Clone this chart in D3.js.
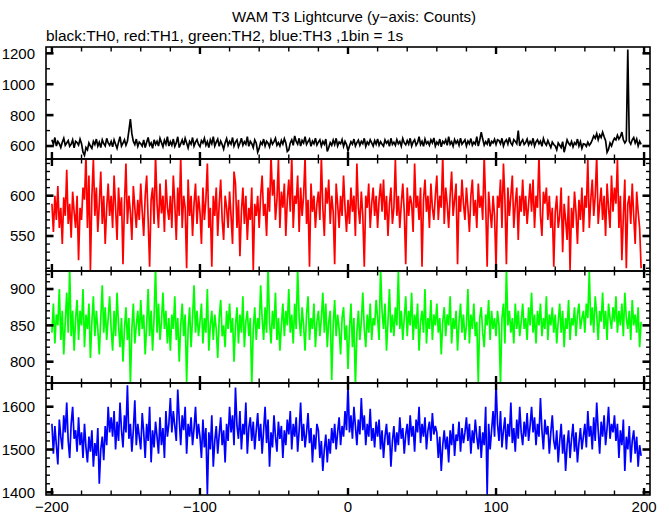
<!DOCTYPE html>
<html><head><meta charset="utf-8">
<script src="https://cdn.jsdelivr.net/npm/d3@7"></script>
<style>body{margin:0;background:#fff}svg{display:block}text{font-family:"Liberation Sans",Arial,Helvetica,sans-serif;fill:#000}</style>
</head><body><svg id="c" width="669" height="515"></svg>
<script>
const titleText = "WAM T3 Lightcurve (y\u2212axis: Counts)";
const subtitleText = "black:TH0, red:TH1, green:TH2, blue:TH3 ,1bin = 1s";
const xStart = -200;           // first bin time (s), 1 bin = 1 s
const xLabels = [-200, -100, 0, 100, 200];
const seriesNames = ["TH0", "TH1", "TH2", "TH3"];
const seriesColors = ["#000000", "#ff0000", "#00ff00", "#0000ff"];

const th0 = [
640,610,655,600,630,615,590,625,650,605,620,635,598,612,640,588,630,622,606,645,
615,560,540,590,575,620,600,585,630,610,645,600,625,590,640,615,600,650,620,605,
630,595,640,612,585,625,660,600,618,640,605,630,700,774,680,630,610,645,598,625,
615,600,640,590,625,655,605,620,585,640,610,630,600,650,622,595,638,612,660,600,
628,605,645,598,620,660,590,615,640,606,650,620,588,630,612,655,600,625,642,610,
596,635,620,650,605,628,590,640,615,660,600,625,645,598,632,610,580,622,648,605,
630,612,655,600,625,640,595,618,650,605,628,612,660,598,630,615,590,640,620,560,
585,625,610,645,600,630,618,595,640,612,628,650,605,622,600,636,612,648,620,565,
575,620,640,605,665,630,612,650,600,636,620,660,610,628,645,598,632,615,650,606,
625,640,600,630,612,645,565,590,622,605,638,610,650,600,625,615,642,598,630,610,
568,600,628,612,645,600,622,638,605,630,615,650,598,626,610,640,620,600,635,612,
646,605,628,612,600,640,618,632,598,650,610,625,605,642,615,630,600,648,620,608,
635,612,650,600,626,640,605,622,660,610,630,598,645,615,628,605,640,620,652,600,
625,610,645,595,630,618,640,605,660,612,628,600,642,618,635,605,650,612,626,640,
600,632,615,648,605,625,612,660,600,638,690,645,606,628,612,650,598,630,620,643,
610,640,635,615,650,600,628,640,612,655,620,605,642,630,615,700,600,625,640,610,
622,645,608,630,612,650,600,626,640,615,632,598,648,620,605,636,612,590,625,610,
600,575,620,605,590,628,560,600,640,618,605,630,595,622,610,645,600,628,585,615,
612,598,625,605,618,640,665,650,680,640,672,655,690,660,635,560,580,620,600,630,
650,640,670,645,660,690,640,620,635,1225,630,612,640,655,620,645,600,630,610];

const th1 = [
590,555,600,570,612,560,585,540,598,575,632,565,590,548,605,580,560,600,520,585,
570,610,595,650,560,625,508,600,645,575,610,555,590,630,565,600,540,585,615,575,
600,560,625,585,545,610,575,598,515,590,640,565,600,580,545,612,585,560,595,570,
615,580,550,600,625,570,512,595,610,565,650,590,560,615,578,600,555,620,585,570,
600,560,625,590,545,610,575,648,560,600,585,510,620,575,600,550,590,615,565,600,
580,540,610,570,595,640,560,585,512,600,575,610,550,590,620,570,545,600,585,560,
605,575,540,630,615,560,595,525,580,610,565,600,545,585,570,610,508,590,575,600,
560,600,625,575,590,550,610,580,650,600,620,570,595,645,560,605,585,615,550,595,
620,580,650,560,600,590,625,555,610,575,600,648,565,595,512,615,580,600,560,590,
605,570,648,585,550,610,590,620,565,600,580,515,615,590,560,600,575,625,585,555,
595,565,610,580,600,550,640,585,565,605,575,512,600,585,615,560,590,610,575,600,
560,595,615,580,620,570,600,550,590,610,565,585,645,575,600,560,590,615,580,515,
610,575,600,590,555,640,585,600,570,610,512,595,620,580,600,560,615,585,570,600,
625,570,600,585,650,565,610,590,560,600,630,575,595,615,515,600,580,620,590,570,
610,585,555,600,620,575,595,560,615,585,600,570,650,590,512,605,580,560,600,575,
510,600,585,620,560,640,595,515,610,575,600,625,560,590,610,545,600,580,620,575,
600,565,590,615,580,620,560,600,585,650,575,550,605,590,610,570,600,560,585,512,
580,600,560,575,610,530,590,570,545,600,508,585,560,605,580,540,595,570,610,555,
600,585,645,560,595,620,575,600,650,565,590,610,570,600,550,615,585,560,625,580,
610,590,645,560,600,520,575,620,510,590,600,565,615,575,540,605,580,560,510];

const th2 = [
840,880,825,865,850,900,830,870,810,855,895,840,930,835,870,815,860,885,830,870,
850,900,820,865,845,880,805,855,890,835,870,845,810,860,905,840,875,830,860,890,
845,815,870,835,895,850,820,860,800,845,875,830,860,770,845,880,825,850,870,835,
885,845,865,810,850,900,835,870,815,860,930,840,880,830,855,895,845,870,825,860,
815,865,845,890,830,860,800,850,880,835,865,772,845,875,820,860,905,840,870,835,
855,880,825,860,840,900,815,850,870,830,865,845,805,860,885,835,850,820,870,845,
880,840,860,800,850,875,825,865,840,890,820,855,870,835,860,768,845,875,830,860,
845,905,860,830,875,840,930,855,825,870,845,895,830,860,815,850,880,835,870,850,
900,840,865,825,880,845,930,860,835,875,850,815,865,890,830,860,845,880,820,855,
870,835,860,895,840,880,820,855,870,775,850,885,835,865,845,810,860,875,830,850,
790,845,880,820,860,765,840,870,830,855,895,845,820,865,840,880,830,860,850,885,
860,830,930,870,845,880,815,855,900,840,865,835,875,850,925,845,870,830,860,890,
835,870,850,895,830,865,845,880,815,855,870,840,900,825,860,845,885,830,865,850,
880,840,860,810,855,875,835,865,850,890,825,860,845,870,815,855,880,840,865,830,
850,900,825,865,845,880,835,855,772,860,875,840,820,865,850,885,830,870,845,860,
835,870,850,770,860,880,825,930,850,870,840,860,825,880,845,870,835,855,880,845,
860,830,875,850,895,840,865,825,870,850,880,835,860,845,890,830,865,850,875,840,
865,825,855,880,840,870,820,860,845,885,830,860,850,875,835,865,880,845,860,870,
840,880,860,925,850,875,840,890,865,830,870,855,895,845,870,830,880,860,845,875,
855,890,840,870,850,880,835,895,860,845,870,830,885,850,865,840,875,820,855];

const th3 = [
1560,1490,1555,1510,1465,1570,1530,1500,1580,1540,1610,1520,1480,1560,1600,1525,1545,1495,1575,1510,
1540,1480,1560,1505,1470,1530,1495,1545,1460,1515,1485,1550,1420,1500,1530,1475,1555,1510,1600,1540,
1575,1530,1590,1500,1565,1520,1610,1545,1505,1580,1540,1650,1525,1560,1495,1545,1615,1510,1560,1530,
1500,1585,1540,1480,1560,1520,1600,1470,1545,1505,1565,1530,1490,1575,1510,1550,1480,1590,1530,1560,
1620,1540,1590,1555,1520,1640,1570,1510,1580,1545,1600,1490,1560,1530,1575,1510,1550,1600,1525,1560,
1530,1480,1570,1505,1550,1395,1540,1500,1580,1460,1520,1555,1490,1535,1575,1510,1545,1470,1560,1520,
1600,1540,1580,1510,1645,1555,1525,1590,1500,1560,1535,1610,1490,1550,1575,1520,1565,1500,1545,1585,
1520,1560,1490,1545,1600,1515,1570,1460,1540,1505,1580,1530,1495,1565,1525,1555,1480,1545,1510,1570,
1535,1590,1500,1560,1530,1575,1495,1545,1610,1520,1560,1505,1540,1585,1515,1550,1470,1535,1500,1560,
1545,1480,1520,1450,1500,1535,1470,1525,1490,1550,1515,1560,1500,1540,1575,1510,1555,1530,1590,1545,
1650,1540,1580,1525,1600,1555,1510,1570,1535,1620,1545,1580,1510,1560,1530,1595,1520,1550,1505,1565,
1530,1570,1500,1545,1480,1530,1560,1510,1540,1460,1520,1555,1495,1540,1510,1575,1525,1550,1490,1535,
1560,1510,1580,1530,1555,1495,1570,1540,1600,1515,1560,1530,1575,1500,1545,1565,1520,1585,1535,1555,
1540,1480,1530,1450,1510,1545,1500,1530,1470,1545,1510,1560,1485,1535,1520,1565,1495,1550,1515,1540,
1575,1520,1560,1490,1545,1515,1570,1530,1500,1555,1480,1540,1510,1600,1395,1560,1500,1545,1590,1530,
1655,1560,1520,1590,1505,1545,1575,1500,1560,1530,1610,1515,1550,1495,1570,1525,1600,1540,1510,1565,
1530,1585,1520,1555,1600,1540,1575,1510,1560,1530,1620,1545,1500,1570,1535,1555,1490,1540,1580,1520,
1500,1545,1470,1520,1560,1490,1535,1450,1510,1545,1480,1525,1560,1495,1540,1470,1515,1550,1500,1530,
1560,1505,1590,1530,1555,1500,1575,1520,1610,1545,1490,1565,1530,1580,1510,1550,1600,1525,1560,1540,
1580,1520,1560,1480,1545,1510,1570,1450,1530,1500,1555,1470,1520,1545,1490,1530,1460,1510,1485];

// y-axis tick labels for each panel, and tick steps
const th0Labels = [600, 800, 1000, 1200];
const th1Labels = [550, 600];
const th2Labels = [800, 850, 900];
const th3Labels = [1400, 1500, 1600];
const yDomains = [[516, 1241], [506.6, 645.5], [770.7, 924.8], [1393.7, 1655.4]];
const yMajorSteps = [200, 50, 50, 100];
const yMinorSteps = [100, 10, 10, 20];

const allSeries = [th0, th1, th2, th3];
const allLabels = [th0Labels, th1Labels, th2Labels, th3Labels];

const svg = d3.select("#c");
const L = 46, R = 650, T = 47, PH = 112;
const x = d3.scaleLinear().domain([-204, 204]).range([L, R]);

svg.append("text").attr("x", 354).attr("y", 22).attr("text-anchor", "middle")
  .style("font-size", "15px").text(titleText);
svg.append("text").attr("x", 46).attr("y", 41)
  .style("font-size", "15.4px").text(subtitleText);

const defs = svg.append("defs");

allSeries.forEach((vals, p) => {
  const top = T + p * PH, bot = top + PH;
  const y = d3.scaleLinear().domain(yDomains[p]).range([bot, top]);
  const g = svg.append("g");
  defs.append("clipPath").attr("id", "cp" + p).append("rect")
    .attr("x", L).attr("y", top).attr("width", R - L).attr("height", PH);

  const line = d3.line().x((d, i) => x(xStart + i)).y(d => y(d));
  g.append("path").datum(vals).attr("d", line)
    .attr("clip-path", "url(#cp" + p + ")")
    .attr("fill", "none").attr("stroke", seriesColors[p])
    .attr("stroke-width", 1.7).attr("stroke-linejoin", "miter");

  // frame
  g.append("rect").attr("x", L).attr("y", top).attr("width", R - L).attr("height", PH)
    .attr("fill", "none").attr("stroke", "#000").attr("stroke-width", 1.6);

  // x ticks (top and bottom, inward)
  d3.range(-200, 201, 20).forEach(t => {
    const maj = t % 100 === 0;
    const len = maj ? 7 : 4.5, w = maj ? 2.4 : 1.4;
    g.append("line").attr("x1", x(t)).attr("x2", x(t)).attr("y1", top).attr("y2", top + len)
      .attr("stroke", "#000").attr("stroke-width", w);
    g.append("line").attr("x1", x(t)).attr("x2", x(t)).attr("y1", bot).attr("y2", bot - len)
      .attr("stroke", "#000").attr("stroke-width", w);
  });

  // y ticks (left and right, inward)
  const [d0, d1] = yDomains[p];
  const mn = yMinorSteps[p], mj = yMajorSteps[p];
  for (let v = Math.ceil(d0 / mn) * mn; v <= d1; v += mn) {
    const maj = Math.abs(v % mj) < 1e-6;
    const len = maj ? 7.5 : 4, w = maj ? 2.6 : 1.4;
    g.append("line").attr("x1", L).attr("x2", L + len).attr("y1", y(v)).attr("y2", y(v))
      .attr("stroke", "#000").attr("stroke-width", w);
    g.append("line").attr("x1", R).attr("x2", R - len).attr("y1", y(v)).attr("y2", y(v))
      .attr("stroke", "#000").attr("stroke-width", w);
  }
  allLabels[p].forEach(v => {
    g.append("text").attr("x", 35).attr("y", y(v)).attr("dy", "0.36em")
      .attr("text-anchor", "end").style("font-size", "15px").text(v);
  });
});

xLabels.forEach(v => {
  svg.append("text").attr("x", x(v)).attr("y", 512).attr("text-anchor", "middle")
    .style("font-size", "15px").text(String(v).replace("-", "\u2212"));
});
</script></body></html>
